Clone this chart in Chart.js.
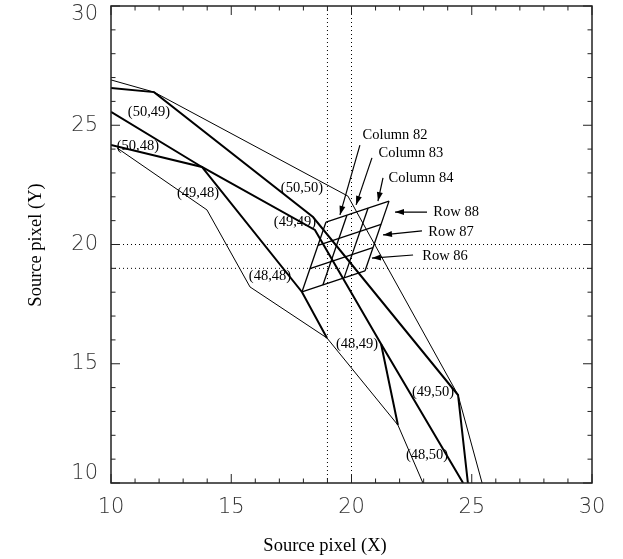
<!DOCTYPE html>
<html>
<head>
<meta charset="utf-8">
<script src="https://cdn.jsdelivr.net/npm/chart.js@4.4.1/dist/chart.umd.min.js"></script>
<style>
  html, body { margin: 0; padding: 0; background: #fff; }
  #wrap { width: 623px; height: 559px; }
</style>
</head>
<body>
<div id="wrap"><canvas id="chart" width="623" height="559"></canvas></div>
<script>
// axis ticks
const majorTicks = [10, 15, 20, 25, 30];
const minorTicks = [11, 12, 13, 14, 16, 17, 18, 19, 21, 22, 23, 24, 26, 27, 28, 29];
const dottedX = [19, 20];
const dottedY = [19, 20];

// big pixel footprints, [x, y] in source pixels
const thinTop    = [[10, 26.90], [11.79, 26.39], [19.85, 22.03], [24.43, 13.69], [25.43, 10]];
const thickTop   = [[10, 26.56], [11.79, 26.39], [18.40, 21.15], [24.43, 13.69], [24.84, 10]];
const thickMid   = [[10, 25.56], [13.78, 23.25], [18.48, 20.61], [21.23, 15.83], [24.64, 10]];
const thickLow   = [[10, 24.17], [13.78, 23.25], [17.94, 18.01], [18.98, 16.08]];
const thinLow    = [[10.25, 24.05], [13.99, 21.45], [15.78, 18.22], [18.98, 16.08], [21.93, 12.43], [22.97, 10]];
const thickShort = [[21.23, 15.83], [21.93, 12.43]];

// small output-pixel grid (columns 82-84, rows 86-88)
const gridCols = [
  [[18.94, 20.94], [17.94, 18.01]],
  [[19.81, 21.23], [18.81, 18.30]],
  [[20.69, 21.53], [19.69, 18.60]],
  [[21.56, 21.82], [20.56, 18.89]]
];
const gridRows = [
  [[17.94, 18.01], [20.56, 18.89]],
  [[18.27, 18.99], [20.89, 19.87]],
  [[18.61, 19.96], [21.23, 20.84]],
  [[18.94, 20.94], [21.56, 21.82]]
];

// pixel labels
const pixelNames = ['(50,49)', '(50,48)', '(49,48)', '(50,50)', '(49,49)', '(48,48)', '(48,49)', '(49,50)', '(48,50)'];
const pixelX     = [11.58, 11.12, 13.62, 17.94, 17.65, 16.61, 20.23, 23.39, 23.14];
const pixelY     = [25.56, 24.13, 22.16, 22.37, 20.94, 18.68, 15.83, 13.82, 11.17];

// arrow callouts: text position, tail, head
const calloutNames = ['Column 82', 'Column 83', 'Column 84', 'Row 88', 'Row 87', 'Row 86'];
const calloutX     = [21.81, 22.47, 22.89, 24.35, 24.14, 23.89];
const calloutY     = [24.59, 23.84, 22.79, 21.36, 20.52, 19.52];
const arrowTail    = [[20.35, 24.17], [20.85, 23.63], [21.31, 22.79], [23.14, 21.36], [22.93, 20.57], [22.56, 19.56]];
const arrowHead    = [[19.52, 21.24], [20.19, 21.66], [21.10, 21.82], [21.81, 21.36], [21.31, 20.40], [20.85, 19.43]];

const pts = arr => arr.map(([x, y]) => ({ x, y }));

function lineSet(arr, width, dash) {
  return {
    data: pts(arr),
    showLine: true,
    borderColor: '#000',
    borderWidth: width,
    borderDash: dash || [],
    pointRadius: 0,
    fill: false,
    tension: 0
  };
}

const datasets = [];
dottedX.forEach(v => datasets.push(lineSet([[v, 10], [v, 30]], 1, [1, 3])));
dottedY.forEach(v => datasets.push(lineSet([[10, v], [30, v]], 1, [1, 3])));
[thinTop, thinLow].forEach(a => datasets.push(lineSet(a, 1)));
[thickTop, thickMid, thickLow, thickShort].forEach(a => datasets.push(lineSet(a, 2)));
gridCols.concat(gridRows).forEach(a => datasets.push(lineSet(a, 1.3)));
arrowTail.forEach((t, i) => datasets.push(lineSet([t, arrowHead[i]], 1.2)));

const decor = {
  id: 'decor',
  afterDatasetsDraw(chart) {
    const ctx = chart.ctx;
    const xs = chart.scales.x, ys = chart.scales.y;
    const a = chart.chartArea;
    ctx.save();

    // frame
    ctx.strokeStyle = '#222';
    ctx.lineWidth = 1.5;
    ctx.strokeRect(a.left, a.top, a.right - a.left, a.bottom - a.top);

    // inward ticks on all four sides
    ctx.lineWidth = 1;
    const tick = (v, len) => {
      const px = xs.getPixelForValue(v), py = ys.getPixelForValue(v);
      ctx.beginPath();
      ctx.moveTo(px, a.bottom); ctx.lineTo(px, a.bottom - len);
      ctx.moveTo(px, a.top); ctx.lineTo(px, a.top + len);
      ctx.moveTo(a.left, py); ctx.lineTo(a.left + len, py);
      ctx.moveTo(a.right, py); ctx.lineTo(a.right - len, py);
      ctx.stroke();
    };
    majorTicks.forEach(v => tick(v, 9));
    minorTicks.forEach(v => tick(v, 4.5));

    // tick labels
    ctx.fillStyle = '#333';
    ctx.font = '300 21px "DejaVu Sans"';
    ctx.textAlign = 'center';
    ctx.textBaseline = 'middle';
    majorTicks.forEach(v => ctx.fillText(String(v), xs.getPixelForValue(v), 508));
    ctx.textAlign = 'right';
    majorTicks.forEach(v => {
      let py = ys.getPixelForValue(v);
      if (v === 30) py += 9;
      if (v === 10) py -= 9;
      ctx.fillText(String(v), 98, py);
    });

    // axis titles
    ctx.fillStyle = '#000';
    ctx.font = '18.5px "Liberation Serif"';
    ctx.textAlign = 'center';
    ctx.fillText('Source pixel (X)', 325, 546);
    ctx.save();
    ctx.translate(36, 245);
    ctx.rotate(-Math.PI / 2);
    ctx.fillText('Source pixel (Y)', 0, 0);
    ctx.restore();

    // arrowheads
    arrowHead.forEach((h, i) => {
      const t = arrowTail[i];
      const hx = xs.getPixelForValue(h[0]), hy = ys.getPixelForValue(h[1]);
      const tx = xs.getPixelForValue(t[0]), ty = ys.getPixelForValue(t[1]);
      const ang = Math.atan2(hy - ty, hx - tx);
      ctx.beginPath();
      ctx.moveTo(hx, hy);
      ctx.lineTo(hx - 9 * Math.cos(ang) + 3 * Math.sin(ang), hy - 9 * Math.sin(ang) - 3 * Math.cos(ang));
      ctx.lineTo(hx - 9 * Math.cos(ang) - 3 * Math.sin(ang), hy - 9 * Math.sin(ang) + 3 * Math.cos(ang));
      ctx.closePath();
      ctx.fill();
    });

    // text labels
    ctx.font = '14.5px "Liberation Serif"';
    ctx.textAlign = 'center';
    pixelNames.forEach((s, i) => ctx.fillText(s, xs.getPixelForValue(pixelX[i]), ys.getPixelForValue(pixelY[i])));
    calloutNames.forEach((s, i) => ctx.fillText(s, xs.getPixelForValue(calloutX[i]), ys.getPixelForValue(calloutY[i])));

    ctx.restore();
  }
};

new Chart(document.getElementById('chart'), {
  type: 'scatter',
  data: { datasets },
  options: {
    responsive: false,
    animation: false,
    events: [],
    devicePixelRatio: 1,
    layout: { padding: { left: 0, top: 6, right: 31, bottom: 0 } },
    plugins: { legend: { display: false }, tooltip: { enabled: false } },
    scales: {
      x: {
        type: 'linear', min: 10, max: 30,
        ticks: { display: false },
        grid: { display: false },
        border: { display: false },
        afterFit: s => { s.height = 76; }
      },
      y: {
        type: 'linear', min: 10, max: 30,
        ticks: { display: false },
        grid: { display: false },
        border: { display: false },
        afterFit: s => { s.width = 111; }
      }
    }
  },
  plugins: [decor]
});
</script>
</body>
</html>
